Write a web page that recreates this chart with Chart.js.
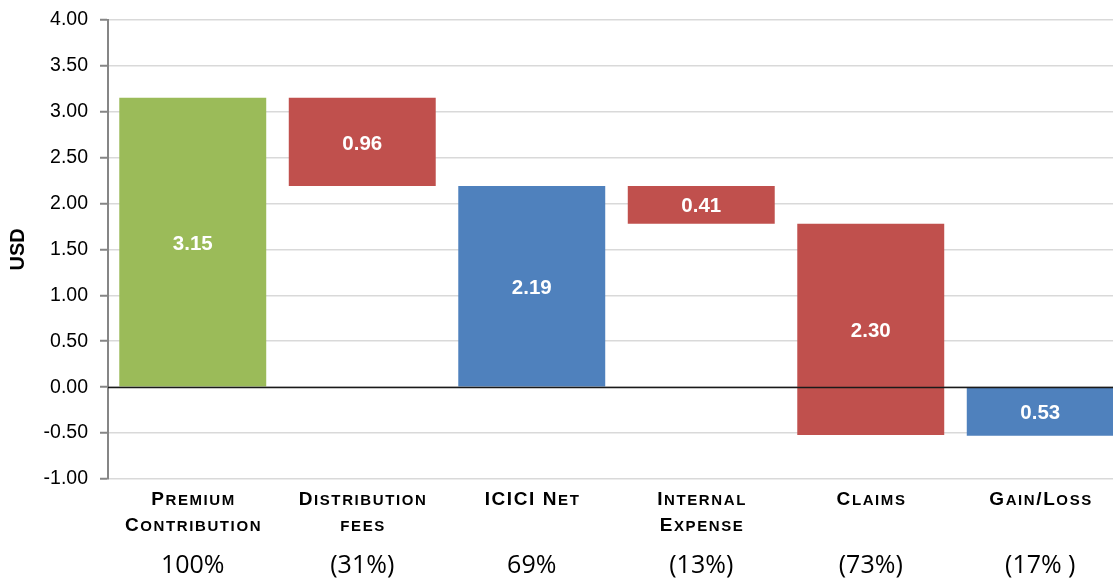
<!DOCTYPE html>
<html>
<head>
<meta charset="utf-8">
<script src="https://cdn.jsdelivr.net/npm/chart.js@4/dist/chart.umd.min.js"></script>
<style>
    html, body { margin: 0; padding: 0; background: #fff; overflow: hidden; }
    #wrap { width: 1125px; height: 584px; margin-top: -4px; }
</style>
</head>
<body>
<div id="wrap"><canvas id="waterfall" width="1125" height="584"></canvas></div>
<script>
// Chart data
const categories = ['Premium Contribution', 'Distribution fees', 'ICICI Net', 'Internal Expense', 'Claims', 'Gain/Loss'];
const categoryLines = [['Premium', 'Contribution'], ['Distribution', 'fees'], ['ICICI Net'], ['Internal', 'Expense'], ['Claims'], ['Gain/Loss']];
const shareLabels = ['100%', '(31%)', '69%', '(13%)', '(73%)', '(17% )'];
const barLow = [0, 2.19, 0, 1.78, -0.52, -0.53];
const barHigh = [3.15, 3.15, 2.19, 2.19, 1.78, 0];
const amounts = [3.15, 0.96, 2.19, 0.41, 2.30, 0.53];
const yMin = -1, yMax = 4, yStep = 0.5;

const GREEN = '#9BBB59', RED = '#C0504D', BLUE = '#4F81BD';
const barColors = [GREEN, RED, BLUE, RED, RED, BLUE];

// draws text in small caps with a bit of letter spacing, centred on cx
function drawSmallCaps(ctx, text, cx, y, bigSize, smallSize, spacing) {
    const parts = [];
    for (const ch of text) {
        const small = /[a-z]/.test(ch);
        const size = small ? smallSize : bigSize;
        ctx.font = `bold ${size}px "Liberation Sans", Arial, sans-serif`;
        const c = ch.toUpperCase();
        parts.push({ c, size, w: ctx.measureText(c).width });
    }
    let total = parts.reduce((s, p) => s + p.w, 0) + spacing * (parts.length - 1);
    let x = cx - total / 2;
    parts.forEach(p => {
        ctx.font = `bold ${p.size}px "Liberation Sans", Arial, sans-serif`;
        ctx.fillText(p.c, x, y);
        x += p.w + spacing;
    });
}

const waterfallPlugin = {
    id: 'waterfallExtras',
    afterDatasetsDraw(chart) {
        const ctx = chart.ctx;
        const x = chart.scales.x;
        const y = chart.scales.y;
        const area = chart.chartArea;

        // zero line over the bars
        ctx.save();
        const y0 = Math.round(y.getPixelForValue(0)) + 0.5;
        ctx.strokeStyle = '#1a1a1a';
        ctx.lineWidth = 1.5;
        ctx.beginPath();
        ctx.moveTo(area.left, y0);
        ctx.lineTo(area.right, y0);
        ctx.stroke();

        // value labels inside bars
        ctx.fillStyle = '#fff';
        ctx.textAlign = 'center';
        ctx.textBaseline = 'middle';
        ctx.font = 'bold 20.5px "Liberation Sans", Arial, sans-serif';
        amounts.forEach((v, i) => {
            const cy = y.getPixelForValue((barLow[i] + barHigh[i]) / 2);
            ctx.fillText(v.toFixed(2), x.getPixelForValue(i), cy + 2);
        });
        ctx.restore();
    },
    afterDraw(chart) {
        const ctx = chart.ctx;
        const x = chart.scales.x;
        ctx.save();
        ctx.fillStyle = '#000';
        ctx.textAlign = 'left';
        ctx.textBaseline = 'alphabetic';
        categoryLines.forEach((lines, i) => {
            const cx = x.getPixelForValue(i);
            lines.forEach((line, j) => {
                drawSmallCaps(ctx, line, cx, 509 + j * 26, 19, 15, 1.6);
            });
        });
        ctx.textAlign = 'center';
        ctx.font = '25px "Open Sans", "Liberation Sans", sans-serif';
        shareLabels.forEach((s, i) => {
            ctx.fillText(s, x.getPixelForValue(i), 577);
        });
        ctx.restore();
    }
};

new Chart(document.getElementById('waterfall'), {
    type: 'bar',
    data: {
        labels: categories,
        datasets: [{
            data: barLow.map((lo, i) => [lo, barHigh[i]]),
            backgroundColor: barColors,
            borderWidth: 0,
            barPercentage: 0.867,
            categoryPercentage: 1
        }]
    },
    options: {
        responsive: false,
        animation: false,
        devicePixelRatio: 1,
        layout: { padding: { top: 14, right: 0, left: 0, bottom: 0 } },
        plugins: {
            legend: { display: false },
            tooltip: { enabled: false }
        },
        scales: {
            x: {
                grid: { display: false },
                border: { display: false },
                ticks: { display: false },
                afterFit: scale => { scale.height = 101; }
            },
            y: {
                min: yMin,
                max: yMax,
                ticks: {
                    stepSize: yStep,
                    padding: 12,
                    color: '#000',
                    font: { family: '"Liberation Sans", Arial, sans-serif', size: 19.5 },
                    callback: v => v.toFixed(2)
                },
                grid: {
                    color: '#D9D9D9',
                    lineWidth: 1.5,
                    tickLength: 8,
                    tickColor: '#868686',
                    tickWidth: 2
                },
                border: { color: '#868686', width: 2 },
                title: {
                    display: true,
                    text: 'USD',
                    color: '#000',
                    padding: { top: 6, bottom: 0 },
                    font: { family: '"Liberation Sans", Arial, sans-serif', size: 20, weight: 'bold' }
                },
                afterFit: scale => { scale.width = 108; }
            }
        }
    },
    plugins: [waterfallPlugin]
});
</script>
</body>
</html>
